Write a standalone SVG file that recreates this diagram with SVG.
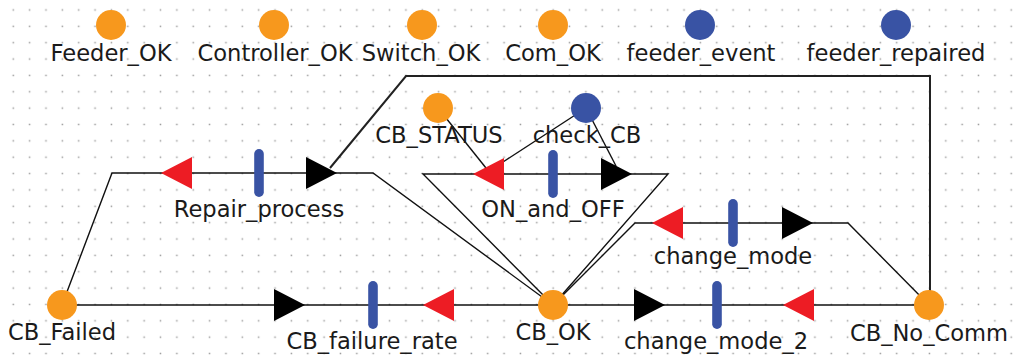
<svg xmlns="http://www.w3.org/2000/svg" xmlns:xlink="http://www.w3.org/1999/xlink" width="1017" height="358" viewBox="0 0 1017 358">
<defs>
<style>
.place{fill:#F7981D}
.event{fill:#3953A4}
.bar{fill:#3953A4}
.lbl{font-family:"DejaVu Sans","Liberation Sans",sans-serif;font-size:22.6px;fill:#1a1a1a;text-anchor:middle}
.arc{fill:none;stroke:#111;stroke-width:1.4;stroke-linejoin:miter}
.arc2{fill:none;stroke:#222;stroke-width:2}
</style>
<pattern id="grid" patternUnits="userSpaceOnUse" x="5.12" y="1.82" width="16.36" height="16.36">
<rect x="7.4" y="7.4" width="1.5" height="1.5" fill="#9a9a9a"/>
</pattern>
<polygon id="arrB" points="-31,-16 0,0 -31,16" fill="#000"/>
<polygon id="arrR" points="0,0 31,-16 31,16" fill="#ED1C24"/>
<rect id="tbar" x="-4.8" y="-24" width="9.6" height="48" rx="4.8"/>
</defs>
<rect width="1017" height="358" fill="#fff"/>
<rect width="1017" height="358" fill="url(#grid)"/>

<g id="connectors">
<path class="arc" d="M62,305 L112,173 L373,173 L553,305"/>
<path class="arc" d="M553,305 L423,174 L668,174 L553,305"/>
<path class="arc" d="M553,305 L635,223 L848,223 L929,305"/>
<path class="arc" d="M62,305 L929,305"/>
<path class="arc2" d="M330,168 L406,76 L930,76 L930,305"/>
<path class="arc" d="M438,108 L486,168"/>
<path class="arc" d="M586,108 L503,162"/>
<path class="arc" d="M586,108 L616,166"/>
<use xlink:href="#arrR" x="161" y="173"/>
<use xlink:href="#arrB" x="337" y="173"/>
<use xlink:href="#arrR" x="473" y="174"/>
<use xlink:href="#arrB" x="632" y="174"/>
<use xlink:href="#arrR" x="652" y="223"/>
<use xlink:href="#arrB" x="813" y="223"/>
<use xlink:href="#arrB" x="305" y="305"/>
<use xlink:href="#arrR" x="423" y="305"/>
<use xlink:href="#arrB" x="665" y="305"/>
<use xlink:href="#arrR" x="783" y="305"/>
</g>

<g id="Feeder_OK"><circle class="place" cx="111" cy="25" r="15"/><text class="lbl" x="111" y="61">Feeder_OK</text></g>
<g id="Controller_OK"><circle class="place" cx="274" cy="25" r="15"/><text class="lbl" x="275" y="61">Controller_OK</text></g>
<g id="Switch_OK"><circle class="place" cx="422" cy="25" r="15"/><text class="lbl" x="421" y="61">Switch_OK</text></g>
<g id="Com_OK"><circle class="place" cx="553" cy="25" r="15"/><text class="lbl" x="553" y="61">Com_OK</text></g>
<g id="feeder_event"><circle class="event" cx="700" cy="25" r="15"/><text class="lbl" x="701" y="61">feeder_event</text></g>
<g id="feeder_repaired"><circle class="event" cx="896" cy="25" r="15"/><text class="lbl" x="896" y="61">feeder_repaired</text></g>
<g id="CB_STATUS"><circle class="place" cx="438" cy="108" r="15"/><text class="lbl" x="439" y="143">CB_STATUS</text></g>
<g id="check_CB"><circle class="event" cx="586" cy="108" r="15"/><text class="lbl" x="587" y="143">check_CB</text></g>
<g id="CB_Failed"><circle class="place" cx="62" cy="305" r="15"/><text class="lbl" x="62" y="340">CB_Failed</text></g>
<g id="CB_OK"><circle class="place" cx="553" cy="305" r="15"/><text class="lbl" x="553" y="340">CB_OK</text></g>
<g id="CB_No_Comm"><circle class="place" cx="929" cy="305" r="15"/><text class="lbl" x="929" y="341">CB_No_Comm</text></g>

<g id="Repair_process"><use xlink:href="#tbar" class="bar" x="259" y="173"/><text class="lbl" x="259" y="217">Repair_process</text></g>
<g id="ON_and_OFF"><use xlink:href="#tbar" class="bar" x="553" y="174"/><text class="lbl" x="553" y="217">ON_and_OFF</text></g>
<g id="change_mode"><use xlink:href="#tbar" class="bar" x="733" y="223"/><text class="lbl" x="733" y="264">change_mode</text></g>
<g id="CB_failure_rate"><use xlink:href="#tbar" class="bar" x="373" y="305"/><text class="lbl" x="372" y="349">CB_failure_rate</text></g>
<g id="change_mode_2"><use xlink:href="#tbar" class="bar" x="717" y="305"/><text class="lbl" x="716" y="349">change_mode_2</text></g>
</svg>
